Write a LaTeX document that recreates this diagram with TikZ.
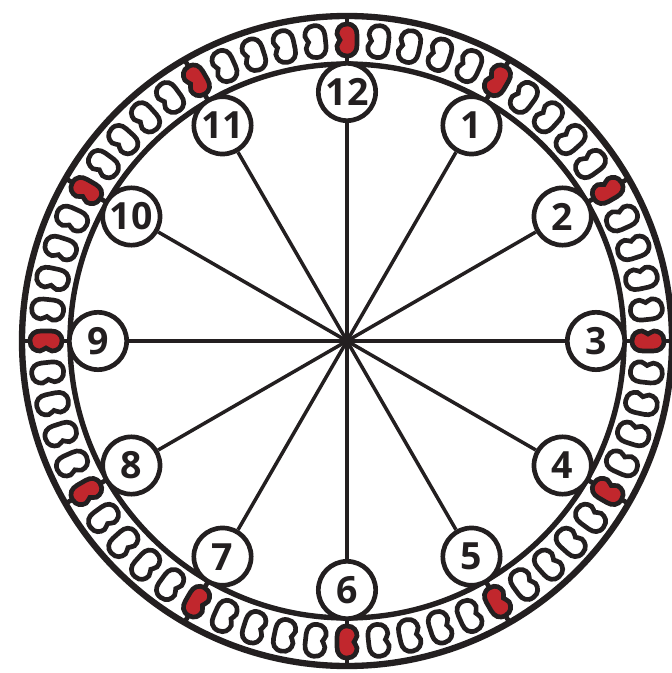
\documentclass[tikz,border=0pt]{standalone}
\usepackage{fontspec}
\setmainfont{Open Sans}
\usepackage{xcolor}
\usepackage{tikz}
\definecolor{clkInk}{HTML}{231F20}
\definecolor{clkRed}{HTML}{C1272D}
\tikzset{
  rim/.style={draw=clkInk,line width=5.4pt},
  stub/.style={draw=clkInk,line width=4pt},
  spoke/.style={draw=clkInk,line width=3pt},
  hourbox/.style={circle,draw=clkInk,fill=white,line width=4pt,
    minimum size=1.72cm,inner sep=0pt,
    font=\fontsize{32}{32}\selectfont\bfseries,text=clkInk},
  beanw/.style={draw=clkInk,fill=white,line width=4pt},
  beanr/.style={draw=clkInk,fill=clkRed,line width=4pt},
  pics/bean/.style={code={
    \path[#1] (-16,0) .. controls (-16,-7) and (-11,-10) .. (-5,-10)
      -- (5,-10) .. controls (11,-10) and (16,-7) .. (16,0)
      .. controls (16,7) and (11,10) .. (6,10)
      .. controls (3,10) and (2,7) .. (0,7)
      .. controls (-2,7) and (-3,10) .. (-6,10)
      .. controls (-11,10) and (-16,7) .. (-16,0) -- cycle;
  }},
}

\begin{document}
\begin{tikzpicture}[x=0.03cm,y=0.03cm]
  \useasboundingbox (-347,-332) rectangle (324,341);
  \coordinate (c) at (0,0);

  % dial rings
  \draw[rim] (c) circle[radius=325];
  \draw[rim,line width=4.6pt] (c) circle[radius=277];

  % beads between the rings
  \foreach \h in {0,...,11}
    \draw[stub] ({90-30*\h}:277) -- ({90-30*\h}:325);
  \foreach \h in {0,...,11}
    \foreach \k in {1,2,3,4}
      \pic[rotate={90-30*\h-6*\k}] at ({90-30*\h-6*\k}:301) {bean=beanw};
  \foreach \h in {0,...,11}
    \pic[rotate={90-30*\h}] at ({90-30*\h}:301) {bean=beanr};

  % hour marks
  \foreach \h in {1,...,12}
    \node[hourbox] (h\h) at ({90-30*\h}:249) {\h};
  \foreach \h in {1,...,12}
    \draw[spoke] (c) -- (h\h);
\end{tikzpicture}
\end{document}
